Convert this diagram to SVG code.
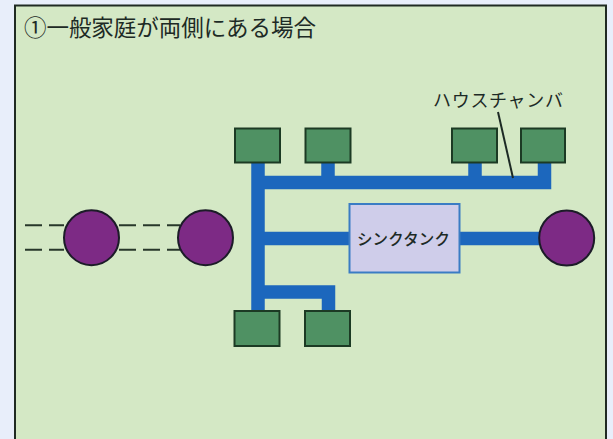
<svg xmlns="http://www.w3.org/2000/svg" width="613" height="439" viewBox="0 0 613 439">
<style>
.jp{font-family:"Noto Sans CJK JP","Noto Sans",sans-serif;fill:#1d2a25;font-weight:400}
.house{fill:#4f9163;stroke:#1c3a24;stroke-width:2}
.well{fill:#7d2a85;stroke:#1c1c28;stroke-width:2}
.pipe{fill:none;stroke:#1c67bd;stroke-width:13.5}
.dash{stroke:#27372a;stroke-width:2;stroke-dasharray:17 7;fill:none}
</style>
<rect width="613" height="439" fill="#e8eefa"/>
<rect x="15" y="5.500" width="591" height="440" fill="#d4e8c5" stroke="#1f2a22" stroke-width="2"/>
<text class="jp" x="24" y="35.500" font-size="22.500" textLength="292" lengthAdjust="spacing">①一般家庭が両側にある場合</text>
<g id="connectors">
<path class="pipe" d="M258 162V311M258 182.500H544.500V162M328 182.500V162M475 182.500V162M258 238.500H350M459 238.500H542M258 292H328.500V311"/>
<path class="dash" d="M25 225.300H64M119 225.300H180M25 249.700H64M119 249.700H180"/>
<path d="M498 112L513 178" stroke="#1d2a25" stroke-width="2" fill="none"/>
</g>
<g id="house1"><rect class="house" x="235" y="128.500" width="45" height="34"/></g>
<g id="house2"><rect class="house" x="305.500" y="128.500" width="45" height="34"/></g>
<g id="house3"><rect class="house" x="452" y="128.500" width="45" height="34"/></g>
<g id="house4"><rect class="house" x="521" y="128.500" width="44" height="34"/></g>
<g id="house5"><rect class="house" x="234.500" y="311" width="45" height="35"/></g>
<g id="house6"><rect class="house" x="305" y="311" width="45" height="35"/></g>
<g id="well1"><circle class="well" cx="91.500" cy="237.700" r="27.500"/></g>
<g id="well2"><circle class="well" cx="205.500" cy="237.700" r="27.500"/></g>
<g id="well3"><circle class="well" cx="566.700" cy="238" r="27.500"/></g>
<g id="tank"><rect x="349.500" y="204" width="110" height="68.500" fill="#cfcdea" stroke="#3a7cc4" stroke-width="2"/>
<text class="jp" x="357" y="244.500" font-size="15.500" font-weight="500" style="font-weight:500" textLength="93" lengthAdjust="spacing">シンクタンク</text></g>
<g id="label"><text class="jp" x="433" y="107" font-size="18" textLength="130" lengthAdjust="spacing">ハウスチャンバ</text></g>
</svg>
